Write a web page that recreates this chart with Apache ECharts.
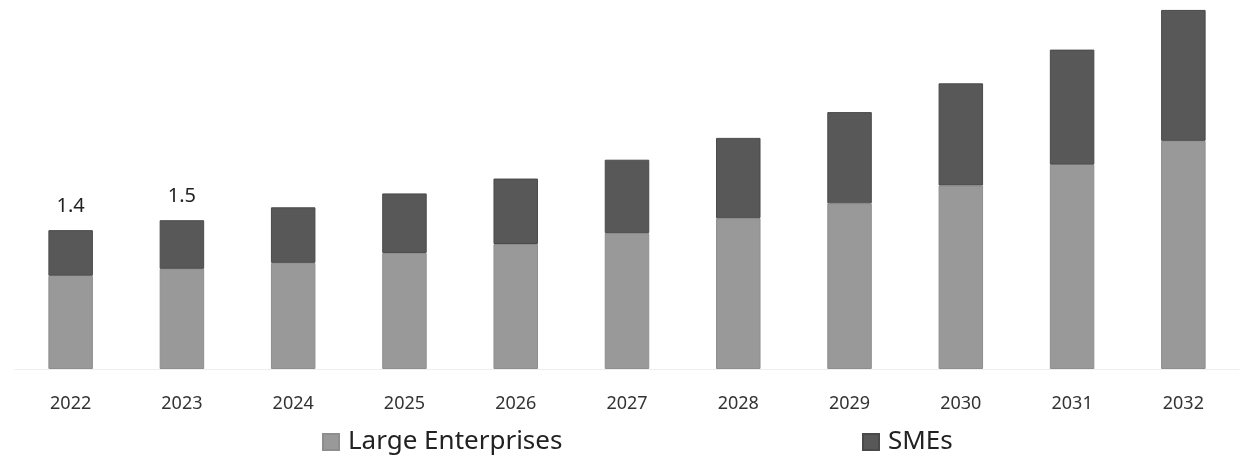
<!DOCTYPE html>
<html><head><meta charset="utf-8">
<script src="https://cdn.jsdelivr.net/npm/echarts@6/dist/echarts.min.js"></script>
<style>html,body{margin:0;padding:0;background:#fff}#c{width:1243px;height:459px}</style>
</head><body><div id="c"></div>
<script>
const years = ['2022','2023','2024','2025','2026','2027','2028','2029','2030','2031','2032'];
const largeEnterprises = [0.94,1.01,1.07,1.17,1.26,1.37,1.52,1.67,1.85,2.06,2.30];
const smes = [0.46,0.49,0.56,0.60,0.66,0.74,0.81,0.92,1.03,1.16,1.32];
const totalLabels = ['1.4','1.5','','','','','','','','',''];

const legendCommon = {
  top:424, itemWidth:16, itemHeight:16, icon:'rect',
  textStyle:{fontSize:26,color:'#222',fontFamily:'Noto Sans',padding:[0,0,0,4]}
};
const chart = echarts.init(document.getElementById('c'));
chart.setOption({
  animation:false,
  textStyle:{fontFamily:'Noto Sans'},
  grid:{left:15,right:4,top:2,bottom:90},
  legend:[
    Object.assign({left:317,data:['Large Enterprises']},legendCommon),
    Object.assign({left:857,data:['SMEs']},legendCommon)
  ],
  xAxis:{type:'category',data:years,
    axisLine:{lineStyle:{color:'#eeeeee'}},axisTick:{show:false},
    axisLabel:{fontSize:18,color:'#333',margin:26}},
  yAxis:{type:'value',min:0,max:3.7,show:false,splitLine:{show:false}},
  series:[
    {name:'Large Enterprises',type:'bar',stack:'t',data:largeEnterprises,barWidth:'40%',
     itemStyle:{color:'#999999',borderColor:'#8e8e8e',borderWidth:1}},
    {name:'SMEs',type:'bar',stack:'t',data:smes,barWidth:'40%',
     itemStyle:{color:'#585858',borderColor:'#4a4a4a',borderWidth:1},
     label:{show:true,position:'top',distance:14,fontSize:20,color:'#222',
       formatter:p=>totalLabels[p.dataIndex]}}
  ]
});
</script></body></html>
